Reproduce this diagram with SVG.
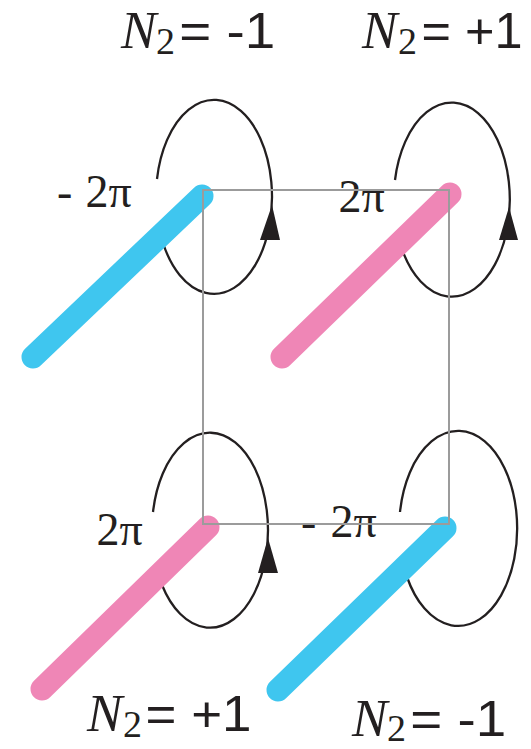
<svg xmlns="http://www.w3.org/2000/svg" width="531" height="749" viewBox="0 0 531 749">
<style>
.bg{fill:#ffffff}
.loop{fill:none;stroke:#231f20;stroke-width:2.3}
.arr{fill:#231f20}
.cy{stroke:#3fc6ef;stroke-width:23;stroke-linecap:round;fill:none}
.pk{stroke:#ef86b6;stroke-width:23;stroke-linecap:round;fill:none}
.cell{fill:none;stroke:#9b9b9b;stroke-width:2}
text{fill:#231f20}
.n{font-family:'Liberation Serif','Times New Roman',Times,'DejaVu Serif',serif;font-style:italic;font-size:53px}
.sub{font-family:'Liberation Serif','Times New Roman',Times,'DejaVu Serif',serif;font-size:38px}
.eq{font-family:'Liberation Sans',Arial,Helvetica,sans-serif;font-size:50px}
.ph{font-family:'Liberation Serif','Times New Roman',Times,'DejaVu Serif',serif;font-size:46px}
</style>
<rect class="bg" x="0" y="0" width="531" height="749"/>

<g id="node-top-left">
  <path class="loop" d="M 163 243 A 58 97 0 1 0 157 179"/>
  <polygon class="arr" points="272,205 260,240 280,240"/>
  <line class="cy" x1="33" y1="357" x2="202" y2="196"/>
  <text class="ph" x="57" y="207">-</text>
  <text class="ph" x="85.6" y="207">2π</text>
  <text class="n" x="121" y="48">N</text>
  <text class="sub" x="156" y="54">2</text>
  <text class="eq" x="179.3" y="48" textLength="96" lengthAdjust="spacingAndGlyphs">= -1</text>
</g>

<g id="node-top-right">
  <path class="loop" d="M 403 252 A 58 97 0 1 0 395 180"/>
  <polygon class="arr" points="509,207 499,240 518,240"/>
  <line class="pk" x1="282" y1="357" x2="450" y2="194"/>
  <text class="ph" x="338.6" y="212">2π</text>
  <text class="n" x="362" y="48">N</text>
  <text class="sub" x="398" y="54">2</text>
  <text class="eq" x="421.5" y="48" textLength="101" lengthAdjust="spacingAndGlyphs">= +1</text>
</g>

<g id="node-bottom-left">
  <path class="loop" d="M 162 585 A 58 97.5 0 1 0 153 512"/>
  <polygon class="arr" points="268,538 258,573 278,573"/>
  <line class="pk" x1="42" y1="689" x2="208" y2="527"/>
  <text class="ph" x="96.6" y="545">2π</text>
  <text class="n" x="87" y="731">N</text>
  <text class="sub" x="123" y="737">2</text>
  <text class="eq" x="145.5" y="731" textLength="106" lengthAdjust="spacingAndGlyphs">= +1</text>
</g>

<g id="node-bottom-right">
  <path class="loop" d="M 407 577 A 59 97.5 0 1 0 400 512"/>
  <line class="cy" x1="278" y1="690" x2="445" y2="528"/>
  <text class="ph" x="301" y="537">-</text>
  <text class="ph" x="330.6" y="537">2π</text>
  <text class="n" x="352" y="736">N</text>
  <text class="sub" x="387" y="741">2</text>
  <text class="eq" x="410.3" y="736" textLength="96" lengthAdjust="spacingAndGlyphs">= -1</text>
</g>

<g id="connectors">
  <rect class="cell" x="203" y="190" width="246" height="334"/>
</g>
</svg>
